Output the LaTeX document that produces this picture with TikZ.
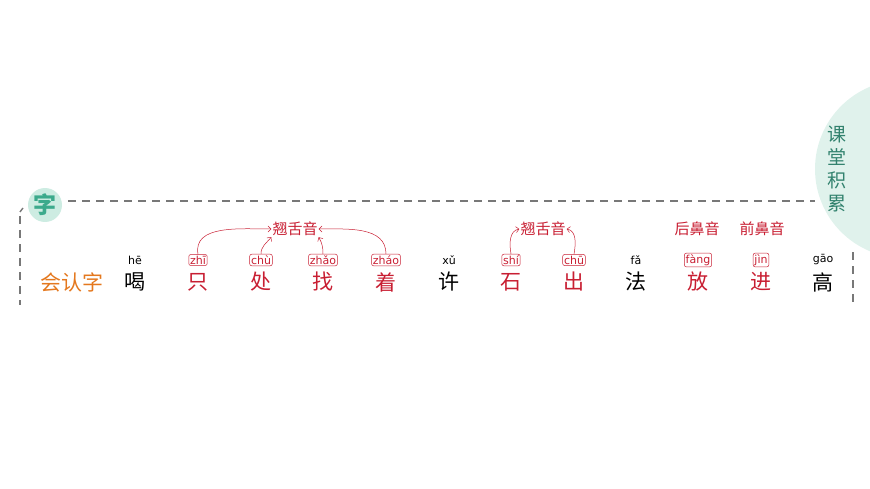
\documentclass[tikz,border=0pt]{standalone}
\usepackage{fontspec}
\setmainfont{DejaVu Sans}
\newfontfamily\cjk{Noto Sans CJK SC}
\usetikzlibrary{arrows.meta}
\definecolor{mint}{RGB}{224,242,236}
\definecolor{badge}{RGB}{205,236,226}
\definecolor{teal}{RGB}{60,170,140}
\definecolor{dkteal}{RGB}{50,130,110}
\definecolor{hred}{RGB}{200,30,50}
\definecolor{orng}{RGB}{228,120,30}
\definecolor{dgray}{RGB}{120,120,120}
\tikzset{
 x=1pt,y=-1pt,
 hz/.style={font=\cjk\fontsize{21}{21}\selectfont},
 py/.style={font=\fontsize{11}{12}\selectfont,inner sep=1.3pt},
 pybox/.style={py,draw=hred,text=hred,rounded corners=2pt,line width=0.5pt},
 lab/.style={font=\cjk\fontsize{15}{15}\selectfont,text=hred,inner sep=1pt},
 arr/.style={draw=hred,line width=0.5pt,-{Straight Barb[length=3pt]}},
 frame/.style={dgray,line width=2pt,dash pattern=on 8pt off 6pt}
}
\begin{document}
\begin{tikzpicture}
\useasboundingbox (0,0) rectangle (870,489);
\fill[mint] (904,169) circle (89);
\node[font=\cjk\fontsize{19}{23}\selectfont,text=dkteal,align=center] (kt) at (837,169) {课\\堂\\积\\累};
\draw[frame] (68,201) -- (815,201);
\draw[frame] (20,216) -- (20,305);
\draw[dgray,line width=1.4pt] (20,212) -- (23,208);
\draw[frame] (853,252) -- (853,305);
\fill[badge] (45,205) circle (17);
\node[font=\cjk\bfseries\fontsize{23}{23}\selectfont,text=teal] (zi) at (45,205) {字};
\node[hz,text=orng] (hrz) at (72,282) {会认字};
% characters
\node[hz] (c1) at (135,282) {喝}; \node[py] (p1) at (135,260) {hē};
\node[hz,text=hred] (c2) at (198,282) {只}; \node[pybox] (p2) at (198,260) {zhī};
\node[hz,text=hred] (c3) at (261,282) {处}; \node[pybox] (p3) at (261,260) {chù};
\node[hz,text=hred] (c4) at (323,282) {找}; \node[pybox] (p4) at (323,260) {zhǎo};
\node[hz,text=hred] (c5) at (386,282) {着}; \node[pybox] (p5) at (386,260) {zháo};
\node[hz] (c6) at (449,282) {许}; \node[py] (p6) at (449,260) {xǔ};
\node[hz,text=hred] (c7) at (511,282) {石}; \node[pybox] (p7) at (511,260) {shí};
\node[hz,text=hred] (c8) at (574,282) {出}; \node[pybox] (p8) at (574,260) {chū};
\node[hz] (c9) at (636,282) {法}; \node[py] (p9) at (636,260) {fǎ};
\node[hz,text=hred] (c10) at (698,282) {放}; \node[pybox] (p10) at (698,260) {fàng};
\node[hz,text=hred] (c11) at (761,282) {进}; \node[pybox] (p11) at (761,260) {jìn};
\node[hz] (c12) at (823,282) {高}; \node[py] (p12) at (823,260) {gāo};
% labels
\node[lab] (l1) at (295,229) {翘舌音};
\node[lab] (l2) at (543,229) {翘舌音};
\node[lab] (l3) at (697,229) {后鼻音};
\node[lab] (l4) at (762,229) {前鼻音};
\draw[arr] (p2.north) to[out=100,in=180] (l1.west);
\draw[arr] (p3.north) to[out=90,in=230] (l1.south west);
\draw[arr] (p4.north) to[out=90,in=300] (l1.south east);
\draw[arr] (p5.north) to[out=90,in=0] (l1.east);
\draw[arr] (p7.north) to[out=100,in=190] (l2.west);
\draw[arr] (p8.north) to[out=80,in=350] (l2.east);
\end{tikzpicture}
\end{document}
